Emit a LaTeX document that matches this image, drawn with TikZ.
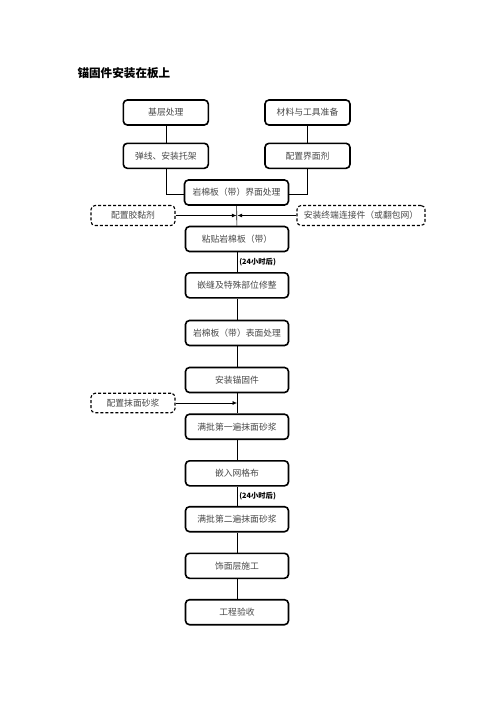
\documentclass[tikz,border=0pt]{standalone}
\usepackage{fontspec}
\setmainfont{Noto Sans CJK SC}
\usetikzlibrary{arrows.meta}
\definecolor{txtgray}{HTML}{474747}
\tikzset{
  stepbox/.style={draw=black, line width=1.6pt, rounded corners=4pt, minimum height=25pt,
    minimum width=103pt, inner sep=0pt, text=txtgray, font=\fontsize{8.8pt}{10pt}\selectfont},
  topbox/.style={stepbox, minimum width=85pt},
  dbox/.style={draw=black, dashed, dash pattern=on 3pt off 2pt, line width=1.1pt, rounded corners=4pt,
    minimum height=20pt, inner sep=0pt, text=txtgray, font=\fontsize{8.8pt}{10pt}\selectfont},
  conn/.style={line width=0.6pt, draw=black},
  arr/.style={conn, -{Latex[length=4.5pt,width=4pt]}},
  lbl/.style={font=\bfseries\fontsize{7.3pt}{8pt}\selectfont, text=black, inner sep=1.5pt, anchor=west}
}
\begin{document}
\begin{tikzpicture}[x=1pt,y=1pt]
\useasboundingbox (0,0) rectangle (496,-702);
\node[anchor=west, font=\bfseries\fontsize{11.6pt}{13pt}\selectfont] (title) at (74,-73) {锚固件安装在板上};

\node[topbox] (b1) at (165.8,-112.5) {基层处理};
\node[topbox] (b2) at (307.5,-112.5) {材料与工具准备};
\node[topbox] (b3) at (165.8,-155.8) {弹线、安装托架};
\node[topbox] (b4) at (307.5,-155.8) {配置界面剂};
\node[stepbox, minimum width=104pt] (b5) at (236.5,-192.5) {岩棉板（带）界面处理};
\node[dbox, minimum width=84pt] (d1) at (133,-215.5) {配置胶黏剂};
\node[dbox, minimum width=128pt] (d2) at (361,-215.5) {安装终端连接件（或翻包网）};
\node[stepbox] (b6) at (237,-239) {粘贴岩棉板（带）};
\node[stepbox] (b7) at (237,-285.3) {嵌缝及特殊部位修整};
\node[stepbox] (b8) at (237,-333) {岩棉板（带）表面处理};
\node[stepbox] (b9) at (237,-380) {安装锚固件};
\node[dbox, minimum width=84pt, minimum height=19.5pt] (d3) at (133,-403) {配置抹面砂浆};
\node[stepbox] (b10) at (237,-426.7) {满批第一遍抹面砂浆};
\node[stepbox] (b11) at (237,-473.3) {嵌入网格布};
\node[stepbox] (b12) at (237,-519.2) {满批第二遍抹面砂浆};
\node[stepbox] (b13) at (237,-565.8) {饰面层施工};
\node[stepbox] (b14) at (237,-612.2) {工程验收};

\draw[conn] (b1) -- (b3);
\draw[conn] (b2) -- (b4);
\draw[conn] (b3.south) |- ([yshift=-1.5pt]b5.west);
\draw[conn] (b4.south) |- ([yshift=-1.5pt]b5.east);
\draw[conn] (b5) -- (b6);
\coordinate (m1) at (b6.north |- d1.east);
\draw[arr] (d1.east) -- ([xshift=-0.6pt]m1);
\draw[arr] (d2.west) -- ([xshift=0.6pt]m1);
\draw[conn] (b6) -- node[lbl, pos=0.5, xshift=0.5pt] {(24小时后)} (b7);
\draw[conn] (b7) -- (b8);
\draw[conn] (b8) -- (b9);
\draw[conn] (b9) -- (b10);
\coordinate (m2) at (b9.south |- d3.east);
\draw[arr] (d3.east) -- (m2);
\draw[conn] (b10) -- (b11);
\draw[conn] (b11) -- node[lbl, pos=0.5, xshift=0.5pt] {(24小时后)} (b12);
\draw[conn] (b12) -- (b13);
\draw[conn] (b13) -- (b14);
\end{tikzpicture}
\end{document}
